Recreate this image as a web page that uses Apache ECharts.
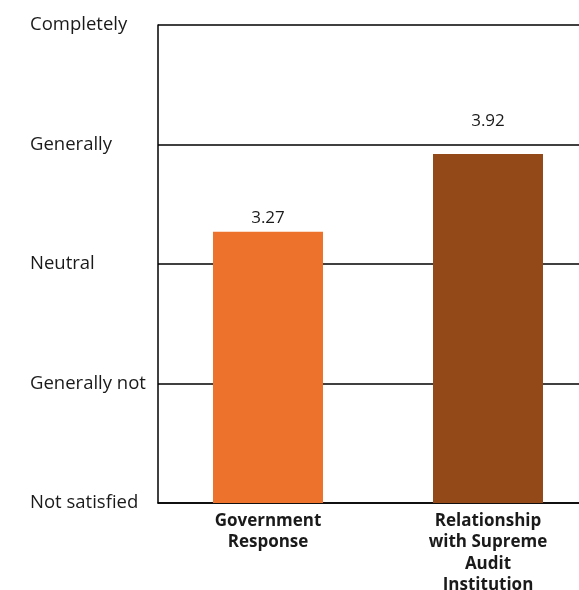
<!DOCTYPE html>
<html>
<head>
<meta charset="utf-8">
<script src="https://cdn.jsdelivr.net/npm/echarts@6/dist/echarts.min.js"></script>
<style>
html,body{margin:0;padding:0;background:#fff;overflow:hidden;}
#chart{width:579px;height:590px;}
</style>
</head>
<body>
<div id="chart"></div>
<script>
const categories = ["Government\nResponse", "Relationship\nwith Supreme\nAudit\nInstitution"];
const values = [3.27, 3.92];
const barColors = ["#ED722B", "#934A18"];
const yTickLabels = {1: "Not satisfied", 2: "Generally not", 3: "Neutral", 4: "Generally", 5: "Completely"};
const labelGaps = [5, 24];

const chart = echarts.init(document.getElementById('chart'));
chart.setOption({
  animation: false,
  grid: {left: 158, top: 25, width: 440, height: 478, containLabel: false, outerBoundsMode: 'none'},
  xAxis: {
    type: 'category',
    data: categories,
    axisLine: {show: true, lineStyle: {color: '#000', width: 1.5}},
    axisTick: {show: false},
    axisLabel: {
      color: '#1a1a1a', fontFamily: 'Open Sans', fontWeight: 'bold',
      fontSize: 17, lineHeight: 21.5, margin: 7, interval: 0
    }
  },
  yAxis: {
    type: 'value', min: 1, max: 5, interval: 1,
    axisLine: {show: true, lineStyle: {color: '#000', width: 1.5}},
    axisTick: {show: false},
    splitLine: {show: true, lineStyle: {color: '#000', width: 1.5}},
    axisLabel: {
      color: '#1a1a1a', fontFamily: 'Open Sans', fontSize: 18.5,
      align: 'left', margin: 128, padding: [0, 0, 6, 0],
      formatter: v => yTickLabels[v] || ''
    }
  },
  series: [{
    type: 'bar',
    barWidth: '50%',
    data: values.map((v, i) => ({value: v, itemStyle: {color: barColors[i]}, label: {distance: labelGaps[i]}})),
    label: {
      show: true, position: 'top',
      color: '#1a1a1a', fontFamily: 'Open Sans', fontSize: 17,
      formatter: p => p.value.toFixed(2)
    }
  }]
});
</script>
</body>
</html>
